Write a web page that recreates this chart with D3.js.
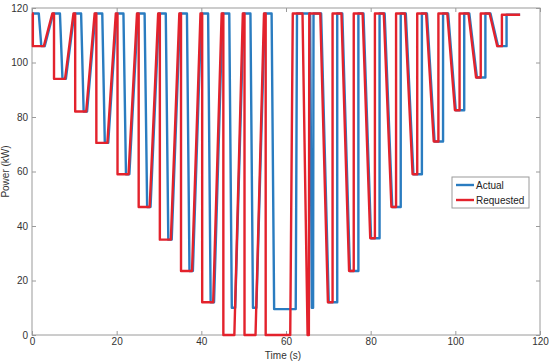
<!DOCTYPE html>
<html><head><meta charset="utf-8">
<script src="https://cdn.jsdelivr.net/npm/d3@7"></script>
<style>
html,body{margin:0;padding:0;background:#fff;}
svg{display:block;font-family:"Liberation Sans",Arial,sans-serif;}
</style></head>
<body>
<svg id="chart" width="549" height="361"></svg>
<script>
// Requested power (red)
const reqTime = [0,0.2,0.2,2.8,4.8, 5.2,5.2,7.8,9.8, 10.2,10.2,12.8,14.8, 15.2,15.2,17.8,19.8,
  20.2,20.2,22.8,24.8, 25.2,25.2,27.8,29.8, 30.2,30.2,32.8,34.8, 35.2,35.2,37.8,39.8,
  40.2,40.2,42.8,44.8, 45.2,45.2,47.8,49.8, 50.2,50.2,52.8,54.8, 55.2,55.2,61.0,61.6,
  63.9,65.1,65.4,65.5, 68.1,69.9,71,71, 73.1,74.9,76,76, 78.1,79.9,81,81, 83.1,84.9,86,86,
  88.1,89.9,91,91, 93.1,94.9,96,96, 98.1,99.9,101,101, 103.1,104.9,106,106, 108.1,109.9,111,111, 115.3];
const reqPower = [118,118,106,106,118, 118,94,94,118, 118,82,82,118, 118,70.5,70.5,118,
  118,59,59,118, 118,47,47,118, 118,35,35,118, 118,23.5,23.5,118,
  118,12,12,118, 118,0,0,118, 118,0,0,118, 118,0,0,118,
  118,0,0,118, 118,12,12,118, 118,23.5,23.5,118, 118,35.5,35.5,118, 118,47,47,118,
  118,59,59,118, 118,71,71,118, 118,82.5,82.5,118, 118,94.5,94.5,118, 118,106,106,117.5, 117.5];
// Actual power (blue)
const actTime = [0, 1.6,2.2,3.0,5.0, 6.6,7.2,8.0,10.0, 11.6,12.2,13.0,15.0, 16.6,17.2,18.0,20.0,
  21.6,22.2,23.0,25.0, 26.6,27.2,28.0,30.0, 31.6,32.2,33.0,35.0, 36.6,37.2,38.0,40.0,
  41.6,42.2,43.0,45.0, 46.6,47.2,48.0,50.0, 51.6,52.2,53.0,55.0, 56.6,57.2,62.3,62.6,
  65.7,66.1,66.4,66.5, 68.3,70.1,72.1,72.1, 73.3,75.1,77.1,77.1, 78.3,80.1,82.1,82.1,
  83.3,85.1,87.1,87.1, 88.3,90.1,92.1,92.1, 93.3,95.1,97.1,97.1, 98.3,100.1,102.1,102.1,
  103.3,105.1,107.1,107.1, 108.3,110.1,112.1,112.1, 115.3];
const actPower = [118, 118,106,106,118, 118,94,94,118, 118,82,82,118, 118,70.5,70.5,118,
  118,59,59,118, 118,47,47,118, 118,35,35,118, 118,23.5,23.5,118,
  118,12,12,118, 118,10,10,118, 118,10,10,118, 118,9.5,9.5,118,
  118,10,10,118, 118,12,12,118, 118,23.5,23.5,118, 118,35.5,35.5,118,
  118,47,47,118, 118,59,59,118, 118,71,71,118, 118,82.5,82.5,118,
  118,94.5,94.5,118, 118,106,106,117.5, 117.5];
const xTicks = [0,20,40,60,80,100,120];
const yTicks = [0,20,40,60,80,100,120];
const seriesNames = ["Actual","Requested"];
const seriesColors = ["#2a7cc0","#e3222c"];

const svg = d3.select("#chart");
const L = 32, R = 540, T = 8, B = 335;
const x = d3.scaleLinear().domain([0,120]).range([L,R]);
const y = d3.scaleLinear().domain([0,120]).range([B,T]);
const axisColor = "#9a9a9a", textColor = "#333";

// box
svg.append("rect").attr("x",L).attr("y",T).attr("width",R-L).attr("height",B-T)
  .attr("fill","#fff").attr("stroke",axisColor).attr("stroke-width",1);

function styleAxis(g){
  g.select(".domain").remove();
  g.selectAll(".tick line").attr("stroke",axisColor);
  g.selectAll(".tick text").attr("fill",textColor).style("font-size","10px")
   .style("font-family","'Liberation Sans',Arial,sans-serif");
}
svg.append("g").attr("transform",`translate(0,${B})`)
  .call(d3.axisBottom(x).tickValues(xTicks).tickSizeInner(-4).tickSizeOuter(0).tickPadding(3))
  .call(styleAxis);
svg.append("g").attr("transform",`translate(0,${T})`)
  .call(d3.axisTop(x).tickValues(xTicks).tickSizeInner(-4).tickSizeOuter(0).tickFormat(""))
  .call(styleAxis);
svg.append("g").attr("transform",`translate(${L},0)`)
  .call(d3.axisLeft(y).tickValues(yTicks).tickSizeInner(-4).tickSizeOuter(0).tickPadding(4))
  .call(styleAxis);
svg.append("g").attr("transform",`translate(${R},0)`)
  .call(d3.axisRight(y).tickValues(yTicks).tickSizeInner(-4).tickSizeOuter(0).tickFormat(""))
  .call(styleAxis);

const line = d3.line().x(d=>x(d[0])).y(d=>y(d[1]));
const act = actTime.map((t,i)=>[t,actPower[i]]);
const req = reqTime.map((t,i)=>[t,reqPower[i]]);
svg.append("path").datum(act).attr("d",line).attr("fill","none")
  .attr("stroke",seriesColors[0]).attr("stroke-width",2.4).attr("stroke-linejoin","round");
svg.append("path").datum(req).attr("d",line).attr("fill","none")
  .attr("stroke",seriesColors[1]).attr("stroke-width",2.4).attr("stroke-linejoin","round");

// labels
svg.append("text").attr("x",(L+R)/2 - 3).attr("y",359).attr("text-anchor","middle")
  .attr("fill",textColor).style("font-size","10px").text("Time (s)");
svg.append("text").attr("transform",`translate(9,${(T+B)/2}) rotate(-90)`)
  .attr("text-anchor","middle").attr("fill",textColor).style("font-size","10px").text("Power (kW)");

// legend
const lg = svg.append("g");
lg.append("rect").attr("x",452).attr("y",177).attr("width",77).attr("height",31)
  .attr("fill","#fff").attr("stroke",axisColor);
seriesNames.forEach((n,i)=>{
  const yy = 185 + i*15;
  lg.append("line").attr("x1",456).attr("x2",474).attr("y1",yy).attr("y2",yy)
    .attr("stroke",seriesColors[i]).attr("stroke-width",2.4);
  lg.append("text").attr("x",476).attr("y",yy+3.5).attr("fill","#222")
    .style("font-size","10px").text(n);
});
</script>
</body></html>
